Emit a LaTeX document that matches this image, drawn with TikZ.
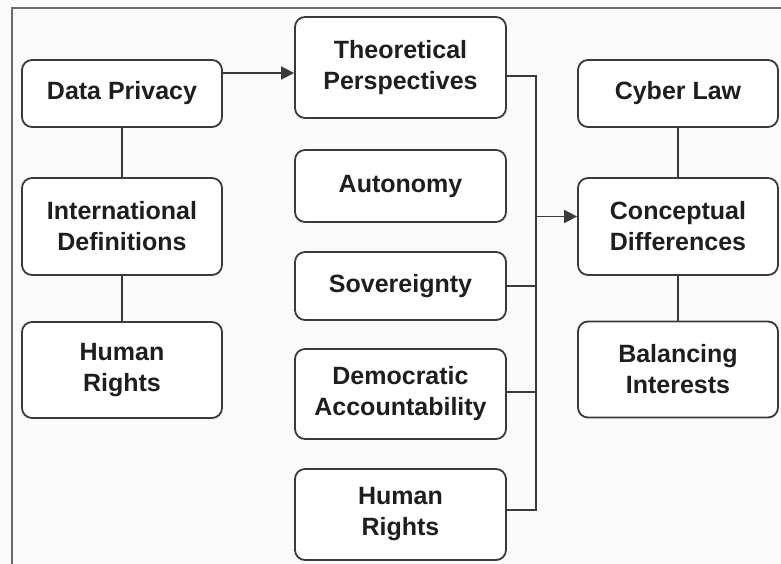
\documentclass[tikz,border=0pt]{standalone}
\usepackage{fontspec}
\setmainfont{Liberation Sans}
\usetikzlibrary{arrows.meta,calc}
\definecolor{inkline}{HTML}{3A3A3A}
\definecolor{inktext}{HTML}{1E1E1E}
\definecolor{paper}{HTML}{FAFAFA}
\definecolor{framegray}{HTML}{6A6A6A}
\tikzset{
  box/.style={draw=inkline, line width=1.8pt, rounded corners=10pt, fill=white,
    inner sep=0pt, align=center, text=inktext,
    font=\fontsize{25}{31}\selectfont\bfseries},
  link/.style={draw=inkline, line width=1.7pt},
  arrowlink/.style={link, -{Triangle[length=13pt,width=13pt]}},
}
\begin{document}
\begin{tikzpicture}[x=1pt,y=-1pt]
  % canvas and outer frame
  \fill[paper] (0,0) rectangle (781,564);
  \useasboundingbox (0,0) rectangle (781,564);
  \draw[framegray, line width=1.8pt] (12,570) -- (12,8) -- (790,8);

  % left column
  \node[box, minimum width=200pt, minimum height=67pt] (dp) at (122,93.5) {Data Privacy};
  \node[box, minimum width=200pt, minimum height=97pt] (intdef) at (122,226.5) {International\\Definitions};
  \node[box, minimum width=200pt, minimum height=96pt] (hrl) at (122,370) {Human\\Rights};

  % middle column
  \node[box, minimum width=211pt, minimum height=101pt] (tp) at (400.5,67.5) {Theoretical\\Perspectives};
  \node[box, minimum width=211pt, minimum height=72pt] (auto) at (400.5,186) {Autonomy};
  \node[box, minimum width=211pt, minimum height=68pt] (sov) at (400.5,286) {Sovereignty};
  \node[box, minimum width=211pt, minimum height=90pt] (dem) at (400.5,394) {Democratic\\Accountability};
  \node[box, minimum width=211pt, minimum height=91pt] (hrm) at (400.5,514.5) {Human\\Rights};

  % right column
  \node[box, minimum width=200pt, minimum height=67pt] (cl) at (678,93.5) {Cyber Law};
  \node[box, minimum width=200pt, minimum height=97pt] (cd) at (678,226.5) {Conceptual\\Differences};
  \node[box, minimum width=200pt, minimum height=96pt] (bi) at (678,369.5) {Balancing\\Interests};

  % vertical chains
  \draw[link] (dp) -- (intdef);
  \draw[link] (intdef) -- (hrl);
  \draw[link] (cl) -- (cd);
  \draw[link] (cd) -- (bi);

  % data privacy feeds the theoretical perspectives
  \draw[arrowlink] ([yshift=20.5pt]dp.east) -- ([yshift=20.5pt]dp.east -| tp.west);

  % collecting bus on the right of the middle column
  \coordinate (busx) at (536,0);
  \draw[link] ([yshift=-8.5pt]tp.east) -- ([yshift=-8.5pt]tp.east -| busx)
    -- ([yshift=4.5pt]hrm.east -| busx) -- ([yshift=4.5pt]hrm.east);
  \draw[link] (sov.east) -- (sov.east -| busx);
  \draw[link] ([yshift=2pt]dem.east) -- ([yshift=2pt]dem.east -| busx);
  \draw[arrowlink] ([yshift=10pt]cd.west -| busx) -- ([yshift=10pt]cd.west);
\end{tikzpicture}
\end{document}
